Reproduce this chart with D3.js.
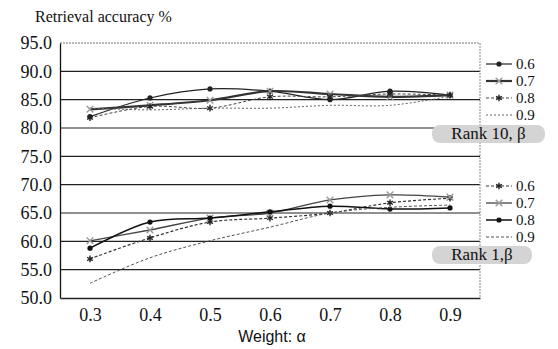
<!DOCTYPE html>
<html>
<head>
<meta charset="utf-8">
<script src="https://cdn.jsdelivr.net/npm/d3@7/dist/d3.min.js"></script>
<style>
  body { margin: 0; background: #fff; }
  svg text { font-family: "Times New Roman", "Liberation Serif", "DejaVu Serif", serif; fill: #111; }
</style>
</head>
<body>
<div class="sandbox" style="width:558px;height:349px"></div>
<script>
// weights on the x axis
var weights = ["0.3", "0.4", "0.5", "0.6", "0.7", "0.8", "0.9"];
var betas = ["0.6", "0.7", "0.8", "0.9"];
var yTicks = [50, 55, 60, 65, 70, 75, 80, 85, 90, 95];

// rank 10 accuracy, one array per beta
var rank10_06 = [82.0, 85.3, 86.9, 86.5, 85.0, 86.5, 85.8];
var rank10_07 = [83.3, 84.0, 84.9, 86.5, 86.0, 85.5, 85.8];
var rank10_08 = [81.8, 83.8, 83.5, 85.5, 85.5, 86.0, 85.8];
var rank10_09 = [83.5, 83.2, 83.5, 83.5, 84.0, 84.0, 85.6];

// rank 1 accuracy
var rank1_06 = [56.9, 60.6, 63.4, 64.1, 65.0, 66.8, 67.6];
var rank1_07 = [60.1, 62.0, 64.1, 65.0, 67.3, 68.2, 67.8];
var rank1_08 = [58.8, 63.4, 64.1, 65.2, 66.2, 65.7, 65.9];
var rank1_09 = [52.6, 57.1, 60.1, 62.5, 65.0, 66.0, 66.4];

var serif = "'Times New Roman', 'Liberation Serif', 'DejaVu Serif', serif";
var w = 558, h = 349;
var m = { left: 60, right: 78, top: 43, bottom: 51 };

var svg = d3.select(".sandbox").append("svg")
  .attr("width", w).attr("height", h);

var x = d3.scalePoint().domain(weights)
  .range([m.left, w - m.right]).padding(0.5);
var y = d3.scaleLinear().domain([50, 95]).range([h - m.bottom, m.top]);

// gridlines
svg.append("g").selectAll("line").data(yTicks.slice(1)).enter().append("line")
  .attr("x1", m.left).attr("x2", w - m.right)
  .attr("y1", d => y(d)).attr("y2", d => y(d))
  .attr("stroke", d => d == 95 ? "#777" : "#222")
  .attr("stroke-width", d => d == 95 ? 1 : 1.2)
  .attr("stroke-dasharray", d => d == 95 ? "2,1" : null);

// right border
svg.append("line")
  .attr("x1", w - m.right).attr("x2", w - m.right)
  .attr("y1", m.top).attr("y2", h - m.bottom)
  .attr("stroke", "#888").attr("stroke-dasharray", "2,1");

// axes
var yAxis = svg.append("g")
  .attr("transform", "translate(" + m.left + ",0)")
  .attr("font-family", null)
  .call(d3.axisLeft(y).tickValues(yTicks).tickFormat(d3.format(".1f")).tickSize(0).tickPadding(8));
yAxis.attr("font-family", serif);
yAxis.select(".domain").attr("stroke", "#111").attr("stroke-width", 1.3);
yAxis.selectAll("text").style("font-size", "18px").style("font-family", serif)
  .attr("fill", "#111");

var xAxis = svg.append("g")
  .attr("transform", "translate(0," + (h - m.bottom) + ")")
  .call(d3.axisBottom(x).tickSize(0).tickPadding(10));
xAxis.attr("font-family", serif);
xAxis.select(".domain").attr("stroke", "#222").attr("stroke-width", 1.3);
xAxis.selectAll("text").style("font-size", "18px").style("font-family", serif)
  .attr("fill", "#111");

svg.append("text").attr("x", 35).attr("y", 22)
  .style("font-size", "16px").style("font-family", serif).text("Retrieval accuracy  %");
svg.append("text").attr("x", 272).attr("y", 342).attr("text-anchor", "middle")
  .style("font-size", "16px").style("font-family", "'Liberation Sans', Arial, sans-serif")
  .text("Weight:  \u03b1");

// line styles per beta
var styles = [
  { stroke: "#222", width: 1.2, dash: null, marker: "dot" },
  { stroke: "#333", width: 2.2, dash: null, marker: "cross" },
  { stroke: "#444", width: 1, dash: "3,2", marker: "star" },
  { stroke: "#666", width: 1, dash: "2,2", marker: "none" }
];
var styles1 = [
  { stroke: "#333", width: 1.2, dash: "3,2", marker: "star" },
  { stroke: "#444", width: 1.3, dash: null, marker: "cross" },
  { stroke: "#111", width: 1.5, dash: null, marker: "dot" },
  { stroke: "#555", width: 1, dash: "3,2", marker: "none" }
];

var line = d3.line().x((d, i) => x(weights[i])).y(d => y(d)).curve(d3.curveCatmullRom);

function drawGroup(series, st) {
  series.forEach(function(s, k) {
    var g = svg.append("g");
    g.append("path").datum(s).attr("d", line).attr("fill", "none")
      .attr("stroke", st[k].stroke).attr("stroke-width", st[k].width)
      .attr("stroke-dasharray", st[k].dash);
    drawMarkers(g, s.map((v, i) => [x(weights[i]), y(v)]), st[k]);
  });
}

function drawMarkers(g, pts, st) {
  if (st.marker == "dot") {
    g.selectAll("circle").data(pts).enter().append("circle")
      .attr("cx", d => d[0]).attr("cy", d => d[1]).attr("r", 2.6).attr("fill", st.stroke);
  } else if (st.marker == "cross" || st.marker == "star") {
    var sym = d3.symbol().type(st.marker == "cross" ? d3.symbolX : d3.symbolAsterisk).size(30);
    g.selectAll("path.m").data(pts).enter().append("path").attr("class", "m")
      .attr("transform", d => "translate(" + d + ")").attr("d", sym)
      .attr("fill", "none").attr("stroke", st.marker == "cross" ? "#999" : "#222")
      .attr("stroke-width", 1.4);
  }
}

drawGroup([rank10_06, rank10_07, rank10_08, rank10_09], styles);
drawGroup([rank1_06, rank1_07, rank1_08, rank1_09], styles1);

// legends
function legend(ys, st, box) {
  betas.forEach(function(b, k) {
    var g = svg.append("g");
    g.append("line").attr("x1", 486).attr("x2", 512).attr("y1", ys[k]).attr("y2", ys[k])
      .attr("stroke", st[k].stroke).attr("stroke-width", st[k].width)
      .attr("stroke-dasharray", st[k].dash);
    drawMarkers(g, [[499, ys[k]]], st[k]);
    g.append("text").attr("x", 516).attr("y", ys[k] + 5)
      .style("font-size", "15px").style("font-family", serif).text(b);
  });
  svg.append("rect").attr("x", box.x).attr("y", box.y).attr("width", box.w).attr("height", 18)
    .attr("rx", 8).attr("fill", "#d4d4d4");
  svg.append("text").attr("x", box.x + box.w / 2).attr("y", box.y + 14)
    .attr("text-anchor", "middle").style("font-size", "17px").style("font-family", serif)
    .text(box.label);
}
legend([64, 81, 98, 115], styles, { x: 432, y: 125, w: 113, label: "Rank 10, \u03b2" });
legend([186, 203, 220, 237], styles1, { x: 432, y: 246, w: 100, label: "Rank 1,\u03b2" });
</script>
</body>
</html>
